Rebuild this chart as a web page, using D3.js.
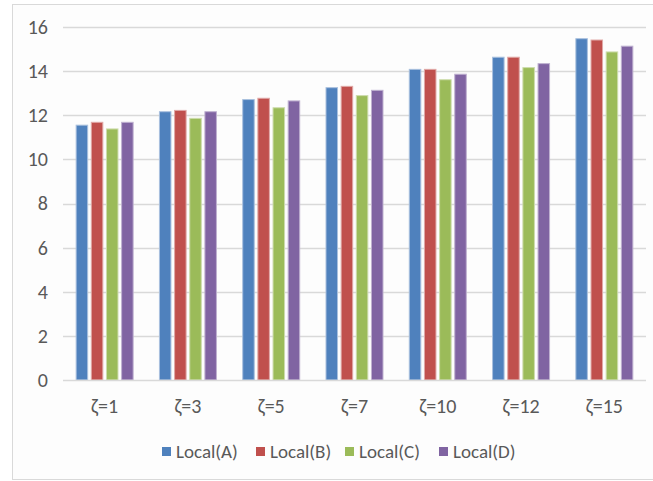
<!DOCTYPE html>
<html>
<head>
<meta charset="utf-8">
<script src="https://cdn.jsdelivr.net/npm/d3@7"></script>
<style>
  html, body { margin: 0; padding: 0; background: #ffffff; }
  svg { display: block; }
  text { font-family: Carlito, Calibri, Lato, "Open Sans", sans-serif; fill: #595959; }
</style>
</head>
<body>
<svg id="chart" width="653" height="481"></svg>
<script>
// Category labels along the x axis
const categories = ["ζ=1", "ζ=3", "ζ=5", "ζ=7", "ζ=10", "ζ=12", "ζ=15"];
// Series names and their values per category
const seriesNames = ["Local(A)", "Local(B)", "Local(C)", "Local(D)"];
const localA = [11.55, 12.16, 12.71, 13.25, 14.08, 14.63, 15.47];
const localB = [11.68, 12.22, 12.77, 13.31, 14.08, 14.63, 15.41];
const localC = [11.38, 11.86, 12.34, 12.89, 13.61, 14.16, 14.87];
const localD = [11.68, 12.16, 12.65, 13.13, 13.86, 14.34, 15.13];
const yTicks = [0, 2, 4, 6, 8, 10, 12, 14, 16];

const seriesValues = [localA, localB, localC, localD];
const colors = ["#4F81BD", "#C0504D", "#9BBB59", "#8064A2"];
const edges = ["#a9c0de", "#e0a8a6", "#cddcac", "#bfb1d0"];

const svg = d3.select("#chart");

// Chart area frame
svg.append("rect")
  .attr("x", 12.5).attr("y", 4.5)
  .attr("width", 660).attr("height", 475)
  .attr("fill", "#fdfdfd").attr("stroke", "#d9d9d9").attr("stroke-width", 1);

const plot = { left: 63, right: 646, top: 27, bottom: 380 };

const x = d3.scaleBand().domain(categories).range([plot.left, plot.right]).paddingInner(0).paddingOuter(0);
const y = d3.scaleLinear().domain([0, 16]).range([plot.bottom, plot.top]);

// Horizontal gridlines
svg.append("g").selectAll("line")
  .data(yTicks.filter(t => t > 0))
  .join("line")
  .attr("x1", plot.left).attr("x2", plot.right)
  .attr("y1", d => Math.round(y(d)) + 0.5).attr("y2", d => Math.round(y(d)) + 0.5)
  .attr("stroke", "#d9d9d9").attr("stroke-width", 1.5);

// Bars: four series inside each category band
const groupWidth = 57;
const inner = d3.scaleBand().domain(d3.range(seriesNames.length)).range([0, groupWidth]).paddingInner(0.24).paddingOuter(0);

const groups = svg.append("g").selectAll("g")
  .data(categories)
  .join("g")
  .attr("transform", d => `translate(${x(d) + (x.bandwidth() - groupWidth) / 2},0)`);

groups.selectAll("rect")
  .data((d, i) => seriesValues.map((vals, s) => ({ s, v: vals[i] })))
  .join("rect")
  .attr("x", d => inner(d.s))
  .attr("width", inner.bandwidth())
  .attr("y", d => y(d.v))
  .attr("height", d => y(0) - y(d.v))
  .attr("fill", d => colors[d.s])
  .attr("stroke", d => edges[d.s])
  .attr("stroke-width", 1);

// Baseline axis
svg.append("line")
  .attr("x1", plot.left).attr("x2", plot.right)
  .attr("y1", plot.bottom + 0.5).attr("y2", plot.bottom + 0.5)
  .attr("stroke", "#d9d9d9").attr("stroke-width", 1.5);

// Y axis tick labels
const yAxis = d3.axisLeft(y).tickValues(yTicks).tickSize(0).tickPadding(0);
svg.append("g")
  .attr("transform", `translate(${plot.left - 15},0)`)
  .call(yAxis)
  .call(g => g.select(".domain").remove())
  .call(g => g.selectAll("text")
    .attr("font-family", "Carlito, Calibri, Lato, sans-serif")
    .attr("font-size", 20).attr("fill", "#595959"));

// X axis category labels
const xAxis = d3.axisBottom(x).tickSize(0).tickPadding(0);
svg.append("g")
  .attr("transform", `translate(0,${plot.bottom + 19})`)
  .call(xAxis)
  .call(g => g.select(".domain").remove())
  .call(g => g.selectAll("text")
    .attr("font-family", "Carlito, Calibri, Lato, sans-serif")
    .attr("font-size", 20).attr("fill", "#595959"));

// Legend
const legendX = [162, 256, 345, 439];
const legend = svg.append("g").selectAll("g")
  .data(seriesNames)
  .join("g")
  .attr("transform", (d, i) => `translate(${legendX[i]},447)`);
legend.append("rect")
  .attr("width", 9).attr("height", 9)
  .attr("fill", (d, i) => colors[i]);
legend.append("text")
  .attr("x", 14).attr("y", 4.5)
  .attr("dy", "0.35em")
  .attr("font-size", 19)
  .text(d => d);
</script>
</body>
</html>
